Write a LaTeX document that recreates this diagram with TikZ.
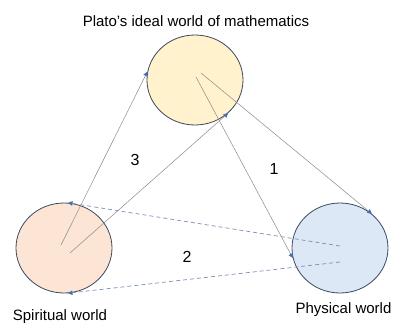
\documentclass[tikz,border=0pt]{standalone}
\usepackage{fontspec}
\setmainfont{Liberation Sans}[Ligatures=ResetAll]
\usetikzlibrary{shapes.geometric,arrows.meta}
\definecolor{ideal}{HTML}{FFF2CC}
\definecolor{spirit}{HTML}{FCE5D4}
\definecolor{phys}{HTML}{DCE8F6}
\definecolor{rim}{HTML}{3E4A5E}
\definecolor{tipblue}{HTML}{4A6FB5}
\definecolor{dashc}{HTML}{7A90B2}
\definecolor{solidc}{HTML}{8A8A8A}
\tikzset{
  world/.style={ellipse, draw=rim, line width=0.8pt, minimum width=96pt, minimum height=90pt, inner sep=0pt},
  lbl/.style={font=\fontsize{15}{18}\selectfont, inner sep=0pt, anchor=base},
  num/.style={font=\fontsize{16}{19}\selectfont, inner sep=0pt},
  solidarrow/.style={draw=solidc, line width=0.5pt, -{Triangle[width=4.5pt,length=4.5pt,color=tipblue]}},
  dasharrow/.style={draw=dashc, line width=0.7pt, dash pattern=on 4pt off 3pt, -{Triangle[width=4.5pt,length=4.5pt,color=tipblue]}}
}
\begin{document}
\begin{tikzpicture}[x=1pt,y=-1pt]
\useasboundingbox (0,0) rectangle (399,322);
\node[world, fill=ideal] (ideal) at (195,80) {};
\node[world, fill=spirit] (spirit) at (64,248) {};
\node[world, fill=phys] (phys) at (340,248) {};
\coordinate (i1) at (201,73);
\coordinate (i2) at (196,77);
\coordinate (s1) at (61,245);
\coordinate (s2) at (70,253);
\coordinate (p1) at (340,246);
\coordinate (p2) at (340,262);
\draw[solidarrow] (i1) -- (phys.47.6);
\draw[solidarrow] (i2) -- (phys.192);
\draw[solidarrow] (s1) -- (ideal.170.5);
\draw[solidarrow] (s2) -- (ideal.315);
\draw[dasharrow] (p1) -- (spirit.85);
\draw[dasharrow] (p2) -- (spirit.275);
\node[lbl] (title) at (196,26) {Plato's ideal world of mathematics};
\node[lbl] (slbl) at (60,320) {Spiritual world};
\node[lbl] (plbl) at (343.5,313) {Physical world};
\node[num] (n3) at (135,160) {3};
\node[num] (n1) at (274,169) {1};
\node[num] (n2) at (187,256.5) {2};
\end{tikzpicture}
\end{document}
